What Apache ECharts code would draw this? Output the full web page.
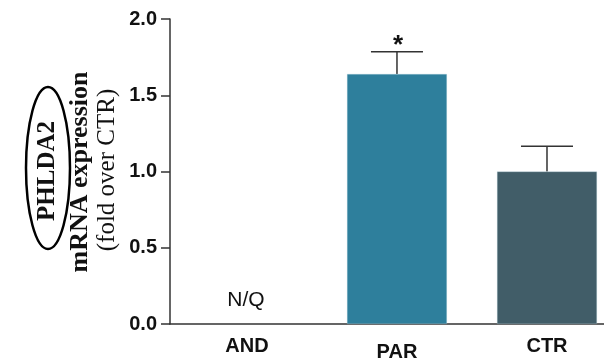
<!DOCTYPE html>
<html>
<head>
<meta charset="utf-8">
<script src="https://cdn.jsdelivr.net/npm/echarts@6/dist/echarts.min.js"></script>
<style>html,body{margin:0;padding:0;background:#fff}#c{width:604px;height:362px}</style>
</head>
<body>
<div id="c"></div>
<script>
var categories = ['AND', 'PAR', 'CTR'];
var meanValues = [null, 1.64, 1.0];
var errorValues = [null, 0.145, 0.165];
var barColors = ['#2e7f9c', '#2e7f9c', '#415d68'];
var yTicks = [0, 0.5, 1.0, 1.5, 2.0];

var chart = echarts.init(document.getElementById('c'));
var barData = meanValues.map(function (v, i) {
  return { value: [i, v == null ? '-' : v], itemStyle: { color: barColors[i] } };
});
var errData = meanValues.map(function (v, i) {
  return v == null ? null : [i, v, v + errorValues[i]];
}).filter(function (d) { return d; });

var lblFont = { fontFamily: 'Liberation Sans, Arial', fontWeight: 'bold', fontSize: 20, color: '#111' };

chart.setOption({
  animation: false,
  grid: { left: 170, top: 19, height: 308, right: 0, containLabel: false },
  xAxis: {
    type: 'value',
    min: -0.513, max: 2.38,
    splitLine: { show: false },
    axisLine: { lineStyle: { color: '#333', width: 1.5 } },
    axisTick: { show: false },
    axisLabel: {
      customValues: [0, 1, 2],
      margin: 12,
      fontFamily: lblFont.fontFamily,
      fontWeight: 'bold',
      fontSize: 20,
      color: '#111',
      formatter: function (v) {
        var name = categories[Math.round(v)];
        return name === 'PAR' ? '{low|' + name + '}' : '{n|' + name + '}';
      },
      rich: {
        n: lblFont,
        low: Object.assign({}, lblFont, { padding: [6, 0, 0, 0] })
      }
    }
  },
  yAxis: {
    type: 'value',
    min: 0, max: 2, interval: 0.5,
    axisLine: { show: true, onZero: false, lineStyle: { color: '#333', width: 1.5 } },
    axisTick: { show: true, length: 9, lineStyle: { color: '#333', width: 1.5 } },
    splitLine: { show: false },
    axisLabel: {
      margin: 13,
      fontFamily: lblFont.fontFamily,
      fontWeight: 'bold',
      fontSize: 20,
      color: '#111',
      formatter: function (v) { return v.toFixed(1); }
    }
  },
  series: [
    {
      type: 'bar',
      data: barData,
      barWidth: 100,
      itemStyle: { borderColor: 'rgba(180,210,220,0.6)', borderWidth: 0.5 }
    },
    {
      type: 'custom',
      data: errData,
      z: 1,
      renderItem: function (params, api) {
        var x = api.value(0);
        var base = api.coord([x, api.value(1)]);
        var top = api.coord([x, api.value(2)]);
        var half = 26;
        var style = { stroke: '#333', lineWidth: 1.5 };
        return {
          type: 'group',
          children: [
            { type: 'line', shape: { x1: base[0], y1: base[1], x2: top[0], y2: top[1] }, style: style },
            { type: 'line', shape: { x1: top[0] - half, y1: top[1], x2: top[0] + half, y2: top[1] }, style: style }
          ]
        };
      }
    }
  ],
  graphic: [
    { type: 'ellipse', shape: { cx: 48, cy: 168, rx: 22, ry: 81 }, style: { fill: 'none', stroke: '#000', lineWidth: 2.5 } },
    { type: 'text', x: 48, y: 171, rotation: Math.PI / 2,
      style: { text: 'PHLDA2', font: 'bold 25px "Liberation Serif", "Times New Roman", serif', fill: '#111', align: 'center', verticalAlign: 'middle' } },
    { type: 'text', x: 80, y: 172, rotation: Math.PI / 2,
      style: { text: 'mRNA expression', font: 'bold 26px "Liberation Serif", "Times New Roman", serif', fill: '#111', align: 'center', verticalAlign: 'middle' } },
    { type: 'text', x: 107, y: 170, rotation: Math.PI / 2,
      style: { text: '(fold over CTR)', font: '25px "Liberation Serif", "Times New Roman", serif', fill: '#111', align: 'center', verticalAlign: 'middle' } },
    { type: 'text', x: 398, y: 46,
      style: { text: '*', font: 'bold 26px "Liberation Sans", Arial, sans-serif', fill: '#111', align: 'center', verticalAlign: 'middle' } },
    { type: 'text', x: 246, y: 300,
      style: { text: 'N/Q', font: '21px "Liberation Sans", Arial, sans-serif', fill: '#111', align: 'center', verticalAlign: 'middle' } }
  ]
});
</script>
</body>
</html>
